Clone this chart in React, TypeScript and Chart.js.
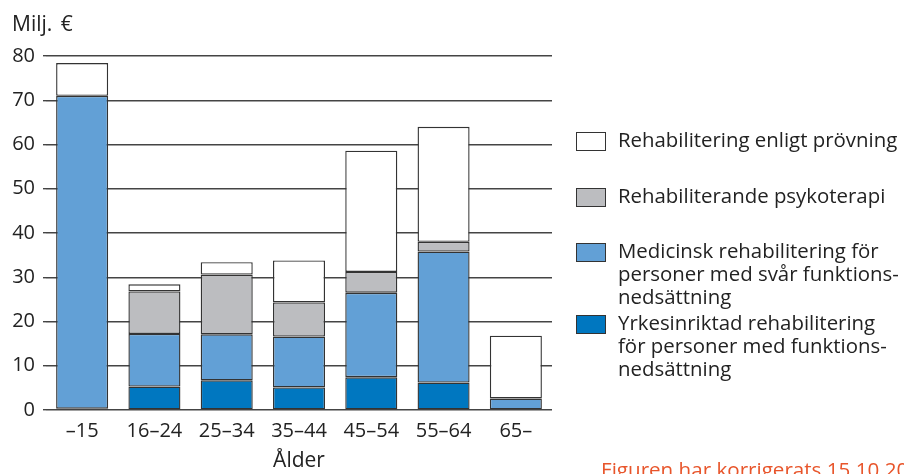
import React, { useEffect, useRef } from "react";
import { Chart, registerables } from "chart.js";

Chart.register(...registerables);

const categories = ["–15", "16–24", "25–34", "35–44", "45–54", "55–64", "65–"];
const seriesNames = [
  "Yrkesinriktad rehabilitering för personer med funktionsnedsättning",
  "Medicinsk rehabilitering för personer med svår funktionsnedsättning",
  "Rehabiliterande psykoterapi",
  "Rehabilitering enligt prövning",
];
const yrkesinriktad = [0.3, 5.3, 6.7, 5.1, 7.4, 6.2, null];
const medicinsk = [70.7, 11.9, 10.4, 11.5, 19.1, 29.6, 2.6];
const psykoterapi = [null, 9.6, 13.5, 7.7, 4.7, 2.2, null];
const provning = [7.4, 1.6, 2.8, 9.5, 27.4, 26.0, 14.2];
const yTicks = [0, 10, 20, 30, 40, 50, 60, 70, 80];
const colors = ["#0077C0", "#62A0D6", "#BCBDC0", "#FFFFFF"];

const legendItems = [
  { color: colors[3], lines: ["Rehabilitering enligt prövning"], top: 128 },
  { color: colors[2], lines: ["Rehabiliterande psykoterapi"], top: 184 },
  { color: colors[1], lines: ["Medicinsk rehabilitering för", "personer med svår funktions-", "nedsättning"], top: 239 },
  { color: colors[0], lines: ["Yrkesinriktad rehabilitering", "för personer med funktions-", "nedsättning"], top: 311 },
];

const FONT = "'Open Sans', sans-serif";

export default function App() {
  const ref = useRef<HTMLCanvasElement | null>(null);

  useEffect(() => {
    document.body.style.margin = "0";
    const values = [yrkesinriktad, medicinsk, psykoterapi, provning];
    const chart = new Chart(ref.current!, {
      type: "bar",
      data: {
        labels: categories,
        datasets: values.map((v, i) => ({
          label: seriesNames[i],
          data: v,
          backgroundColor: colors[i],
          borderColor: "#333333",
          borderWidth: 1.4,
          borderSkipped: false,
          categoryPercentage: 1,
          barPercentage: 0.72,
        })),
      },
      options: {
        animation: false,
        responsive: false,
        layout: { padding: { left: 0, right: 352, top: 56, bottom: 0 } },
        plugins: { legend: { display: false }, tooltip: { enabled: false } },
        scales: {
          x: {
            stacked: true,
            grid: { display: false, drawTicks: false },
            border: { display: false },
            ticks: { color: "#222", font: { family: FONT, size: 20 }, padding: 9 },
            title: {
              display: true,
              text: "Ålder",
              color: "#222",
              font: { family: FONT, size: 21 },
              padding: { top: 0, bottom: 0 },
            },
            afterFit: (s: any) => {
              s.height = 64;
            },
          },
          y: {
            stacked: true,
            min: 0,
            max: 80,
            afterBuildTicks: (s: any) => {
              s.ticks = yTicks.map((v) => ({ value: v }));
            },
            grid: { color: "#444", lineWidth: 1.4, tickLength: 3, drawTicks: true },
            border: { display: false },
            ticks: { color: "#222", font: { family: FONT, size: 20 }, padding: 8 },
            afterFit: (s: any) => {
              s.width = 46;
            },
          },
        },
      },
    });
    return () => chart.destroy();
  }, []);

  return (
    <div style={{ position: "relative", width: 904, height: 474, overflow: "hidden", fontFamily: FONT, color: "#222" }}>
      <canvas ref={ref} width={904} height={474} style={{ position: "absolute", left: 0, top: 0 }} />
      <div style={{ position: "absolute", left: 12, top: 11, fontSize: 21, lineHeight: "24px", whiteSpace: "nowrap", wordSpacing: 3 }}>Milj. €</div>
      {legendItems.map((it, i) => (
        <div key={i} style={{ position: "absolute", left: 576, top: it.top }}>
          <div
            style={{
              position: "absolute",
              left: 0,
              top: 4,
              width: 28,
              height: 17,
              background: it.color,
              border: "1.3px solid #333",
            }}
          />
          <div style={{ position: "absolute", left: 42, top: 0, fontSize: 20.4, lineHeight: "23px", whiteSpace: "nowrap" }}>
            {it.lines.map((l, j) => (
              <div key={j}>{l}</div>
            ))}
          </div>
        </div>
      ))}
      <div style={{ position: "absolute", left: 601, top: 455, fontSize: 20.6, color: "#E8552B", whiteSpace: "nowrap" }}>
        Figuren har korrigerats 15.10.2014
      </div>
    </div>
  );
}
